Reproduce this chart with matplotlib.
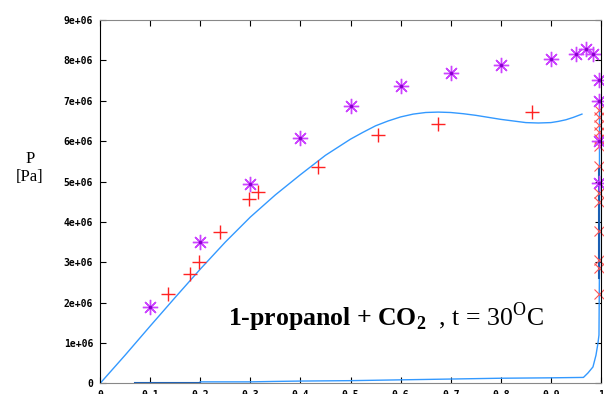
import numpy as np
import matplotlib.pyplot as plt
from matplotlib.ticker import FixedLocator, FixedFormatter

plt.rcParams['mathtext.fontset'] = 'custom'
plt.rcParams['mathtext.rm'] = 'Liberation Serif'
plt.rcParams['mathtext.bf'] = 'Liberation Serif:bold'

# experimental bubble points (red +) and dew points (purple *)
bub_x = [0.136, 0.18, 0.198, 0.24, 0.298, 0.316, 0.435, 0.555, 0.675, 0.862]
bub_p = [2.22e6, 2.72e6, 3.0e6, 3.75e6, 4.57e6, 4.74e6, 5.36e6, 6.15e6, 6.42e6, 6.72e6]

star_x = [0.1, 0.2, 0.3, 0.4, 0.5, 0.6, 0.7, 0.8, 0.9, 0.95, 0.97, 0.984,
          0.996, 0.996, 0.996, 0.996]
star_p = [1.9e6, 3.5e6, 4.94e6, 6.08e6, 6.87e6, 7.36e6, 7.68e6, 7.88e6, 8.03e6,
          8.15e6, 8.28e6, 8.15e6, 7.51e6, 7.0e6, 6.0e6, 4.96e6]

# vapour side measurements, all close to y = 1
cross_x = [0.996] * 14
cross_p = [6.77e6, 6.6e6, 6.4e6, 6.22e6, 6.05e6, 5.88e6, 5.38e6, 4.97e6, 4.72e6,
           4.5e6, 3.78e6, 3.05e6, 2.85e6, 2.22e6]

# model curves
liq_x = [0, 0.05, 0.1, 0.15, 0.2, 0.25, 0.3, 0.35, 0.4, 0.45, 0.5, 0.525, 0.55,
         0.575, 0.6, 0.625, 0.65, 0.675, 0.7, 0.725, 0.75, 0.775, 0.8, 0.825,
         0.85, 0.875, 0.9, 0.915, 0.93, 0.945, 0.962]
liq_p = [0, 0.7e6, 1.42e6, 2.13e6, 2.83e6, 3.5e6, 4.12e6, 4.67e6, 5.17e6, 5.65e6,
         6.05e6, 6.22e6, 6.38e6, 6.5e6, 6.6e6, 6.67e6, 6.71e6, 6.72e6, 6.71e6,
         6.68e6, 6.64e6, 6.59e6, 6.54e6, 6.5e6, 6.46e6, 6.45e6, 6.46e6, 6.49e6,
         6.53e6, 6.59e6, 6.67e6]

vap_x = [0.2, 0.3, 0.345, 0.4, 0.5, 0.6, 0.7, 0.8, 0.9, 0.965, 0.974, 0.984,
         0.99, 0.994, 0.996, 0.997, 0.997]
vap_p = [0.04e6, 0.04e6, 0.05e6, 0.06e6, 0.07e6, 0.09e6, 0.11e6, 0.13e6, 0.14e6,
         0.15e6, 0.26e6, 0.41e6, 0.7e6, 1.0e6, 1.2e6, 3.0e6, 6.77e6]

dark_x = [0.07, 0.2]
dark_p = [0.005e6, 0.005e6]
dark2_x = [0.997, 0.997]
dark2_p = [2.6e6, 5.3e6]

xticks = [0, 0.1, 0.2, 0.3, 0.4, 0.5, 0.6, 0.7, 0.8, 0.9, 1]
xlabels = ['0', '0.1', '0.2', '0.3', '0.4', '0.5', '0.6', '0.7', '0.8', '0.9', '1']
yticks = [0, 1e6, 2e6, 3e6, 4e6, 5e6, 6e6, 7e6, 8e6, 9e6]
ylabels = ['0', '1e+06', '2e+06', '3e+06', '4e+06', '5e+06', '6e+06', '7e+06',
           '8e+06', '9e+06']

fig = plt.figure(figsize=(6.04, 3.94), dpi=100)
ax = fig.add_axes([0.1656, 0.0267, 0.8294, 0.9225])

ax.plot(liq_x, liq_p, color='#3399ff', lw=1.0)
ax.plot(vap_x, vap_p, color='#3399ff', lw=1.0)
ax.plot(dark_x, dark_p, color='#1a5fb4', lw=1.5)
ax.plot(dark2_x, dark2_p, color='#1a5fb4', lw=1.5)

ax.plot(cross_x, cross_p, 'x', color='#ff5555', ms=7, mew=0.8, clip_on=False)
ax.plot(bub_x, bub_p, '+', color='#ff2222', ms=10, mew=1.0)
ax.plot(star_x, star_p, ls='none', marker=(8, 2, 0), color='#cc44ff', ms=11,
        mew=1.0, clip_on=False)
ax.plot(star_x, star_p, ls='none', marker='.', color='#8800cc', ms=3,
        clip_on=False)

ax.set_xlim(0, 1)
ax.set_ylim(0, 9e6)
ax.xaxis.set_major_locator(FixedLocator(xticks))
ax.xaxis.set_major_formatter(FixedFormatter(xlabels))
ax.yaxis.set_major_locator(FixedLocator(yticks))
ax.yaxis.set_major_formatter(FixedFormatter(ylabels))
ax.tick_params(direction='in', length=4, width=0.8, top=True, right=True,
               labelsize=7, pad=5)
for lab in ax.get_xticklabels() + ax.get_yticklabels():
    lab.set_family('DejaVu Sans Mono')
    lab.set_weight('bold')

for side in ['top', 'bottom']:
    ax.spines[side].set_color('#888888')
for side in ['left', 'right']:
    ax.spines[side].set_color('black')

fig.text(30 / 604, 1 - 168 / 394, 'P\n[Pa]', family='Liberation Serif',
         fontsize=12, ha='center', va='center', linespacing=1.1)

# title inside the plot, bold part then normal part
t1 = ax.text(0.255, 1.45e6, '1-propanol + CO$_\\mathbf{2}$', family='Liberation Serif',
             fontsize=18.5, fontweight='bold', ha='left', va='baseline')
fig.canvas.draw()
w = t1.get_window_extent().width
ax.annotate('  , t = 30$^\\mathrm{O}$C', xy=(0.255, 1.45e6), xytext=(w, 0),
            textcoords='offset pixels', family='Liberation Serif', fontsize=18.5,
            ha='left', va='baseline')

plt.savefig('out.png', dpi=100)
